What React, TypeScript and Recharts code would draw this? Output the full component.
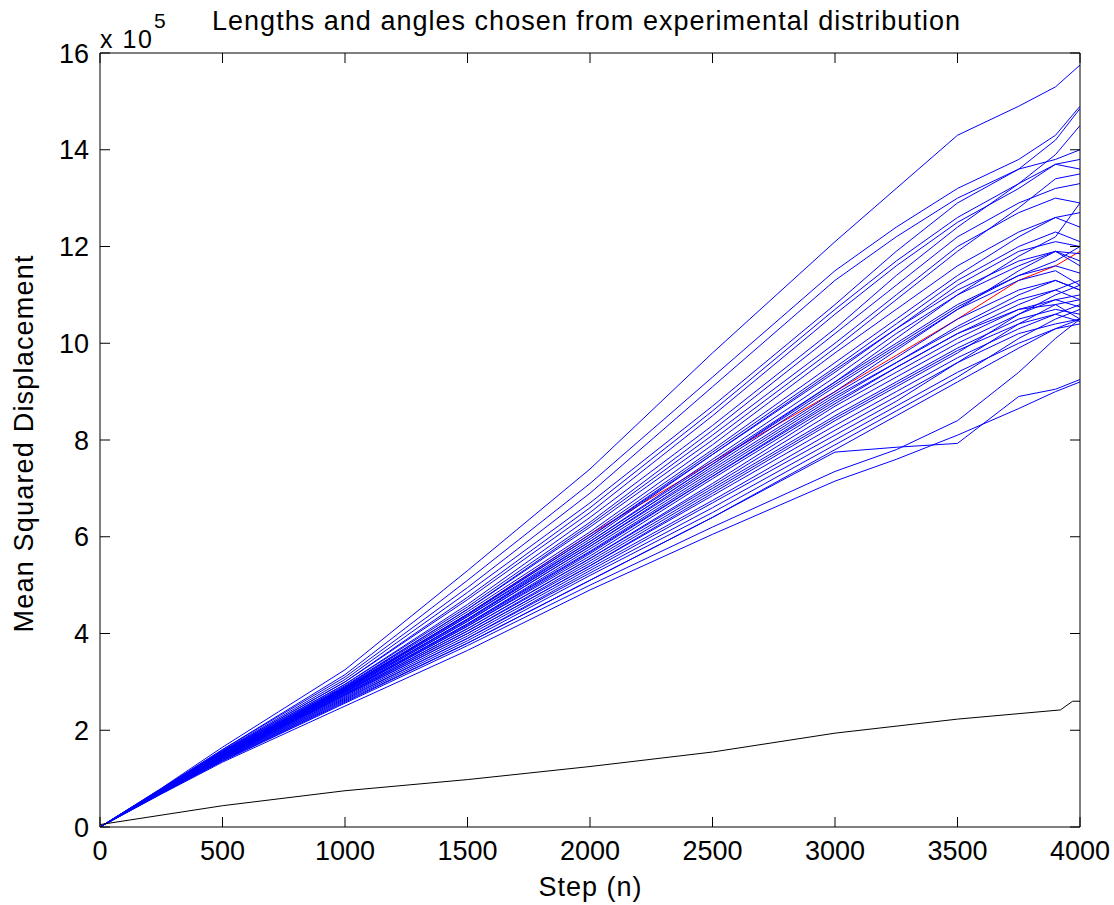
import React from 'react';
import { LineChart, Line, XAxis, YAxis, Label } from 'recharts';

const FONT = '"Liberation Sans", Arial, Helvetica, sans-serif';

// sample steps shared by the simulated runs
const STEPS = [0, 250, 500, 1000, 1500, 2000, 2500, 3000, 3250, 3500, 3750, 3900, 4000];

// blue runs, mean squared displacement in units of 1e5
const RUNS: number[][] = [
  [0, 0.8, 1.65, 3.25, 5.3, 7.4, 9.8, 12.1, 13.2, 14.3, 14.9, 15.3, 15.75],
  [0, 0.79, 1.6, 3.15, 5.1, 7.1, 9.3, 11.5, 12.4, 13.2, 13.8, 14.3, 14.9],
  [0, 0.79, 1.6, 3.1, 4.95, 6.9, 9.1, 11.3, 12.2, 13.0, 13.6, 13.8, 14.0],
  [0, 0.78, 1.58, 3.05, 4.85, 6.7, 8.7, 10.8, 11.9, 12.9, 13.6, 14.2, 14.85],
  [0, 0.78, 1.57, 3.0, 4.75, 6.6, 8.6, 10.7, 11.7, 12.6, 13.3, 13.9, 14.5],
  [0, 0.78, 1.56, 3.0, 4.7, 6.5, 8.5, 10.6, 11.6, 12.5, 13.2, 13.7, 13.6],
  [0, 0.77, 1.55, 2.95, 4.6, 6.4, 8.3, 10.3, 11.4, 12.4, 13.3, 13.7, 13.8],
  [0, 0.77, 1.55, 2.95, 4.55, 6.3, 8.2, 10.2, 11.2, 12.2, 12.9, 13.2, 13.3],
  [0, 0.77, 1.54, 2.92, 4.5, 6.25, 8.1, 10.0, 11.0, 12.0, 12.7, 13.0, 12.9],
  [0, 0.76, 1.53, 2.9, 4.5, 6.2, 8.0, 9.9, 10.9, 11.9, 12.8, 13.4, 13.5],
  [0, 0.76, 1.52, 2.9, 4.45, 6.1, 7.9, 9.8, 10.7, 11.6, 12.3, 12.6, 12.7],
  [0, 0.76, 1.52, 2.88, 4.4, 6.05, 7.8, 9.6, 10.5, 11.4, 12.2, 12.6, 12.4],
  [0, 0.75, 1.5, 2.88, 4.4, 6.0, 7.75, 9.5, 10.4, 11.3, 12.0, 12.3, 12.1],
  [0, 0.75, 1.5, 2.86, 4.35, 5.95, 7.7, 9.4, 10.3, 11.2, 11.9, 12.1, 12.0],
  [0, 0.75, 1.49, 2.85, 4.35, 5.9, 7.6, 9.3, 10.2, 11.0, 11.6, 11.9, 11.85],
  [0, 0.75, 1.49, 2.84, 4.3, 5.9, 7.55, 9.2, 10.1, 11.0, 11.8, 12.2, 12.9],
  [0, 0.74, 1.48, 2.83, 4.3, 5.85, 7.5, 9.2, 10.0, 10.8, 11.4, 11.6, 11.45],
  [0, 0.74, 1.48, 2.82, 4.25, 5.8, 7.45, 9.1, 9.9, 10.7, 11.3, 11.5, 11.2],
  [0, 0.74, 1.47, 2.82, 4.25, 5.8, 7.4, 9.0, 9.85, 10.7, 11.5, 11.9, 11.7],
  [0, 0.74, 1.47, 2.8, 4.2, 5.75, 7.35, 8.95, 9.7, 10.5, 11.1, 11.3, 11.1],
  [0, 0.74, 1.46, 2.8, 4.2, 5.7, 7.3, 8.9, 9.6, 10.3, 10.9, 11.1, 10.9],
  [0, 0.73, 1.46, 2.78, 4.15, 5.65, 7.25, 8.8, 9.5, 10.2, 10.8, 11.1, 11.3],
  [0, 0.73, 1.45, 2.78, 4.15, 5.6, 7.2, 8.75, 9.5, 10.2, 10.7, 10.9, 10.75],
  [0, 0.73, 1.45, 2.76, 4.1, 5.55, 7.1, 8.7, 9.4, 10.1, 10.7, 10.8, 10.5],
  [0, 0.73, 1.45, 2.75, 4.1, 5.55, 7.05, 8.6, 9.3, 10.0, 10.6, 10.9, 11.0],
  [0, 0.72, 1.44, 2.74, 4.05, 5.5, 7.0, 8.5, 9.2, 9.9, 10.5, 10.7, 10.6],
  [0, 0.72, 1.44, 2.73, 4.05, 5.45, 6.95, 8.45, 9.15, 9.85, 10.4, 10.6, 10.45],
  [0, 0.72, 1.43, 2.72, 4.0, 5.4, 6.9, 8.4, 9.1, 9.8, 10.6, 11.0, 11.2],
  [0, 0.72, 1.43, 2.7, 4.0, 5.4, 6.85, 8.3, 9.0, 9.7, 10.3, 10.6, 10.8],
  [0, 0.71, 1.42, 2.68, 3.95, 5.35, 6.75, 8.2, 8.9, 9.6, 10.2, 10.4, 10.5],
  [0, 0.71, 1.41, 2.66, 3.9, 5.3, 6.7, 8.1, 8.8, 9.6, 10.4, 10.8, 10.9],
  [0, 0.71, 1.4, 2.64, 3.9, 5.25, 6.6, 8.0, 8.7, 9.4, 10.0, 10.3, 10.4],
  [0, 0.7, 1.39, 2.62, 3.85, 5.2, 6.5, 7.9, 8.6, 9.3, 10.1, 10.5, 10.7],
  [0, 0.7, 1.38, 2.6, 3.8, 5.1, 6.4, 7.8, 8.5, 9.2, 9.9, 10.3, 10.5],
  [0, 0.7, 1.37, 2.58, 3.8, 5.1, 6.4, 7.75, 7.85, 7.93, 8.9, 9.05, 9.25],
  [0, 0.69, 1.36, 2.56, 3.75, 5.0, 6.2, 7.35, 7.8, 8.4, 9.4, 10.1, 10.5],
  [0, 0.68, 1.34, 2.5, 3.65, 4.9, 6.05, 7.15, 7.6, 8.1, 8.65, 9.0, 9.2],
  [0, 0.75, 1.5, 2.87, 4.38, 6.0, 7.7, 9.45, 10.3, 11.1, 11.7, 11.9, 11.6],
  [0, 0.74, 1.48, 2.84, 4.28, 5.85, 7.5, 9.15, 9.95, 10.75, 11.4, 11.7, 12.0],
  [0, 0.73, 1.46, 2.79, 4.18, 5.68, 7.25, 8.85, 9.6, 10.35, 11.0, 11.3, 11.1],
];

// red average of the runs
const MEAN = [0, 0.74, 1.47, 2.85, 4.4, 6.05, 7.55, 9.0, 9.75, 10.5, 11.3, 11.6, 11.9];

// black reference curve
const REF_STEPS = [0, 500, 1000, 1500, 2000, 2500, 3000, 3500, 3920, 3970, 4000];
const REF_VALUES = [0.05, 0.44, 0.75, 0.98, 1.25, 1.55, 1.94, 2.23, 2.42, 2.6, 2.6];

const X_TICKS = [0, 500, 1000, 1500, 2000, 2500, 3000, 3500, 4000];
const Y_TICKS = [0, 2, 4, 6, 8, 10, 12, 14, 16];

const rows = STEPS.map((step, i) => {
  const row: Record<string, number> = { step, mean: MEAN[i] };
  RUNS.forEach((run, k) => {
    row['r' + k] = run[i];
  });
  return row;
});

const refRows = REF_STEPS.map((step, i) => ({ step, ref: REF_VALUES[i] }));

// plot box edges (chart margins + axis sizes)
const LEFT = 100;
const RIGHT = 1080;
const TOP = 53;
const BOTTOM = 827;
const TICK_LEN = 10;

// MATLAB-style inward ticks
const BottomTick = ({ x, payload }: any) => (
  <g>
    <line x1={x} x2={x} y1={BOTTOM} y2={BOTTOM - TICK_LEN} stroke="#000" />
    <text x={x} y={841} dy="0.71em" textAnchor="middle" fontSize={27} fontFamily={FONT} fill="#000">
      {payload.value}
    </text>
  </g>
);

const TopTick = ({ x }: any) => <line x1={x} x2={x} y1={TOP} y2={TOP + TICK_LEN} stroke="#000" />;

const LeftTick = ({ y, payload }: any) => (
  <g>
    <line x1={LEFT} x2={LEFT + TICK_LEN} y1={y} y2={y} stroke="#000" />
    <text x={89} y={y} dy="0.355em" textAnchor="end" fontSize={27} fontFamily={FONT} fill="#000">
      {payload.value}
    </text>
  </g>
);

const RightTick = ({ y }: any) => <line x1={RIGHT} x2={RIGHT - TICK_LEN} y1={y} y2={y} stroke="#000" />;

const TitleText = () => (
  <g fontFamily={FONT} fill="#000">
    <text x={586} y={30} fontSize={27} textAnchor="middle" textLength={748} lengthAdjust="spacing">
      Lengths and angles chosen from experimental distribution
    </text>
    <text x={100} y={48} fontSize={25} textLength={52} lengthAdjust="spacing">
      x 10
    </text>
    <text x={154} y={28} fontSize={21}>
      5
    </text>
  </g>
);

const YTitle = () => (
  <text
    transform="translate(33,444) rotate(-90)"
    fontFamily={FONT}
    fontSize={27}
    fill="#000"
    textAnchor="middle"
    textLength={377}
    lengthAdjust="spacing"
  >
    Mean Squared Displacement
  </text>
);

const XTitle = () => (
  <text x={590} y={896} fontFamily={FONT} fontSize={27} fill="#000" textAnchor="middle" textLength={103} lengthAdjust="spacing">
    Step (n)
  </text>
);

export default function App() {
  return (
    <div style={{ position: 'absolute', left: 0, top: 0, background: '#fff' }}>
      <LineChart width={1114} height={905} data={rows} margin={{ top: 52, right: 33, bottom: 0, left: 0 }}>
        <XAxis
          dataKey="step"
          type="number"
          domain={[0, 4000]}
          ticks={X_TICKS}
          interval={0}
          height={78}
          tickLine={false}
          stroke="#000"
          tick={<BottomTick />}
          allowDataOverflow
        >
          <Label content={XTitle} />
        </XAxis>
        <XAxis
          xAxisId="top"
          orientation="top"
          dataKey="step"
          type="number"
          domain={[0, 4000]}
          ticks={X_TICKS}
          interval={0}
          height={1}
          tickLine={false}
          tick={<TopTick />}
          stroke="#000"
          allowDataOverflow
        >
          <Label content={TitleText} />
        </XAxis>
        <YAxis
          type="number"
          domain={[0, 16]}
          ticks={Y_TICKS}
          interval={0}
          width={100}
          tickLine={false}
          stroke="#000"
          tick={<LeftTick />}
          allowDataOverflow
        >
          <Label content={YTitle} />
        </YAxis>
        <YAxis
          yAxisId="right"
          orientation="right"
          type="number"
          domain={[0, 16]}
          ticks={Y_TICKS}
          interval={0}
          width={1}
          tickLine={false}
          tick={<RightTick />}
          stroke="#000"
          allowDataOverflow
        />
        <Line dataKey="mean" stroke="#ff0000" strokeWidth={1} dot={false} isAnimationActive={false} />
        {RUNS.map((_, k) => (
          <Line
            key={k}
            dataKey={'r' + k}
            stroke="#0000ff"
            strokeWidth={1}
            dot={false}
            isAnimationActive={false}
          />
        ))}
        <Line data={refRows} dataKey="ref" stroke="#000" strokeWidth={1} dot={false} isAnimationActive={false} />
        {/* invisible series so the top and right frame axes get drawn */}
        <Line
          xAxisId="top"
          yAxisId="right"
          dataKey="mean"
          stroke="none"
          dot={false}
          activeDot={false}
          isAnimationActive={false}
        />
      </LineChart>
    </div>
  );
}
